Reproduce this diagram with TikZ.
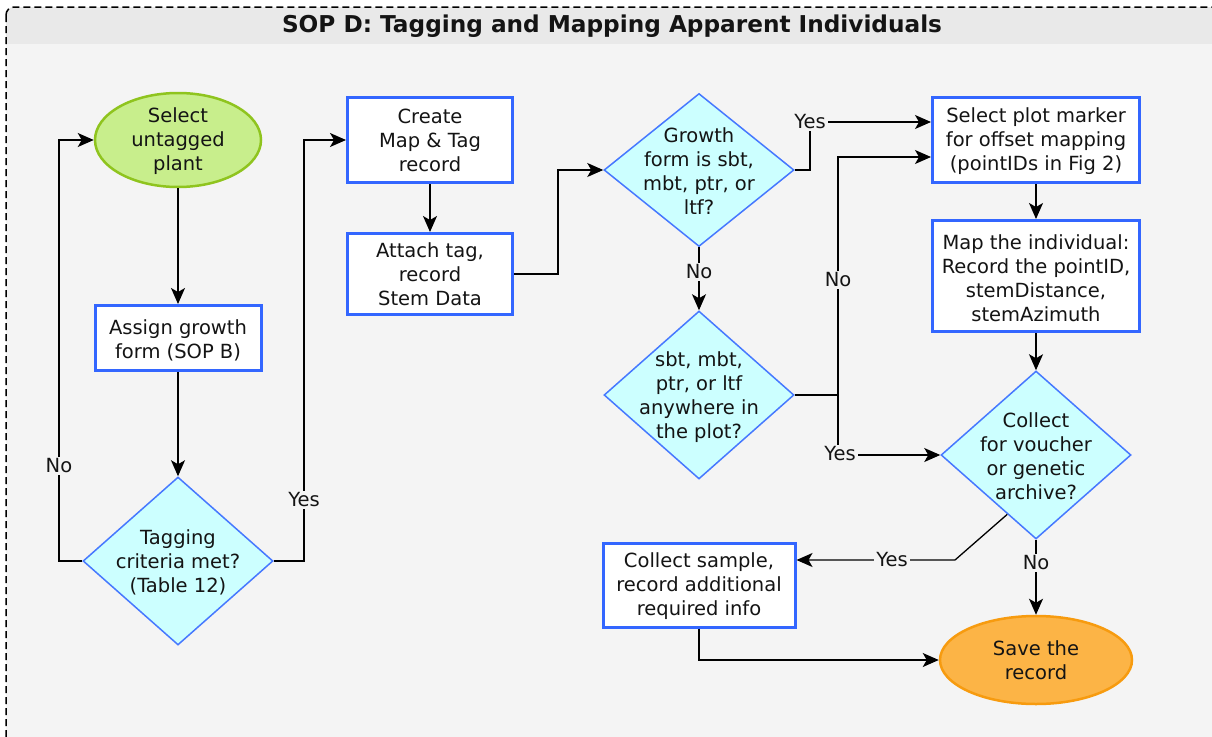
\documentclass[tikz,border=0pt]{standalone}
\usepackage{fontspec}
\setmainfont{DejaVu Sans}
\usetikzlibrary{shapes.geometric,arrows.meta,calc}
\definecolor{boxblue}{RGB}{51,102,255}
\definecolor{diablue}{RGB}{70,120,255}
\definecolor{diafill}{RGB}{204,255,255}
\definecolor{bodybg}{RGB}{244,244,244}
\definecolor{titlebg}{RGB}{233,233,233}
\definecolor{greenfill}{RGB}{200,238,140}
\definecolor{greenline}{RGB}{143,196,30}
\definecolor{orangefill}{RGB}{252,180,70}
\definecolor{orangeline}{RGB}{247,155,15}
\definecolor{txtc}{RGB}{20,20,20}
\newcommand{\mfont}{\fontsize{19.5}{24}\selectfont}
\tikzset{
  box/.style={draw=boxblue, line width=3pt, fill=white, inner sep=0pt},
  dia/.style={diamond, draw=diablue, line width=1.5pt, fill=diafill, inner sep=0pt},
  ell/.style={ellipse, line width=2.5pt, inner sep=0pt},
  txt/.style={align=center, font=\mfont, text=txtc, inner sep=0pt},
  arr/.style={-{Stealth[length=16pt,width=14pt,inset=4pt]}, line width=1.3pt},
  lbl/.style={fill=bodybg, inner sep=2pt, font=\mfont, text=txtc},
}
\begin{document}
\begin{tikzpicture}[x=1pt,y=-1pt]
\useasboundingbox (0,0) rectangle (1212,736);
\fill[white] (0,0) rectangle (1212,736);
\begin{scope}
\clip (0,0) rectangle (1212,736);
\fill[bodybg, rounded corners=8pt] (6,7) rectangle (1240,780);
\fill[titlebg, rounded corners=8pt] (6,7) rectangle (1240,50);
\fill[bodybg] (6,44) rectangle (1240,60);
\draw[line width=1.5pt, dash pattern=on 7pt off 4pt, rounded corners=8pt] (6,7) rectangle (1240,780);
\end{scope}
\node[font=\fontsize{23.2}{27}\bfseries, text=txtc] (title) at (612,26) {SOP D: Tagging and Mapping Apparent Individuals};

% shapes
\node[ell, draw=greenline, fill=greenfill, minimum width=166pt, minimum height=94pt] (e1) at (178,140) {};
\node[txt] (e1t) at (178,141) {Select\\untagged\\plant};
\node[box, minimum width=166pt, minimum height=65pt] (b1) at (178,338) {};
\node[txt] (b1t) at (178,340) {Assign growth\\form (SOP B)};
\node[dia, minimum width=190pt, minimum height=168pt] (d1) at (178,561) {};
\node[txt] (d1t) at (178,562) {Tagging\\criteria met?\\(Table 12)};

\node[box, minimum width=165pt, minimum height=85pt] (b2) at (430,140) {};
\node[txt] (b2t) at (430,140) {Create\\Map \& Tag\\record};
\node[box, minimum width=165pt, minimum height=81pt] (b3) at (430,274) {};
\node[txt] (b3t) at (430,274) {Attach tag,\\record\\Stem Data};

\node[dia, minimum width=190pt, minimum height=153pt] (d2) at (699,170) {};
\node[txt] (d2t) at (699,171) {Growth\\form is sbt,\\mbt, ptr, or\\ltf?};
\node[dia, minimum width=190pt, minimum height=168pt] (d3) at (699,395) {};
\node[txt] (d3t) at (699,397) {sbt, mbt,\\ptr, or ltf\\anywhere in\\the plot?};

\node[box, minimum width=207pt, minimum height=85pt] (b5) at (1036,140) {};
\node[txt] (b5t) at (1036,141) {Select plot marker\\for offset mapping\\(pointIDs in Fig 2)};
\node[box, minimum width=207pt, minimum height=111pt] (b6) at (1036,276) {};
\node[txt] (b6t) at (1036,278) {Map the individual:\\Record the pointID,\\stemDistance,\\stemAzimuth};
\node[dia, minimum width=190pt, minimum height=168pt] (d4) at (1036,455) {};
\node[txt] (d4t) at (1036,456) {Collect\\for voucher\\or genetic\\archive?};

\node[box, minimum width=192pt, minimum height=84pt] (b7) at (699,585) {};
\node[txt] (b7t) at (699,586) {Collect sample,\\record additional\\required info};
\node[ell, draw=orangeline, fill=orangefill, minimum width=192pt, minimum height=88pt] (e2) at (1036,660) {};
\node[txt] (e2t) at (1036,660) {Save the\\record};

% connectors
\draw[arr] (e1) -- (b1);
\draw[arr] (b1) -- (d1);
\draw[arr] (d1.west) -- (59,561) |- (e1.west);
\draw[arr] (d1.east) -- (304,561) |- (b2.west);
\draw[arr] (b2) -- (b3);
\draw[arr] (b3.east) -- (558,274) |- (d2.west);
\draw[arr] (d2.east) -- (810,170) -- (810,122) -- ([yshift=18pt]b5.west);
\draw[arr] (d2) -- (d3);
\draw[arr] (d3.east) -- (838,395) |- ([yshift=-17pt]b5.west);
\draw[arr] (838,395) |- (d4.west);
\draw[arr] (b5) -- (b6);
\draw[arr] (b6.south) -- (d4.north);
\draw[arr] ($(d4.west)!0.7!(d4.south)$) -- (955,560) -- ([yshift=25pt]b7.east);
\draw[arr] (d4) -- (e2);
\draw[arr] (b7.south) |- (e2.west);

% labels
\node[lbl] (l1) at (59,466) {No};
\node[lbl] (l2) at (304,500) {Yes};
\node[lbl] (l3) at (810,122) {Yes};
\node[lbl] (l4) at (699,272) {No};
\node[lbl] (l5) at (838,280) {No};
\node[lbl] (l6) at (840,454) {Yes};
\node[lbl] (l7) at (892,560) {Yes};
\node[lbl] (l8) at (1036,563) {No};
\end{tikzpicture}
\end{document}
